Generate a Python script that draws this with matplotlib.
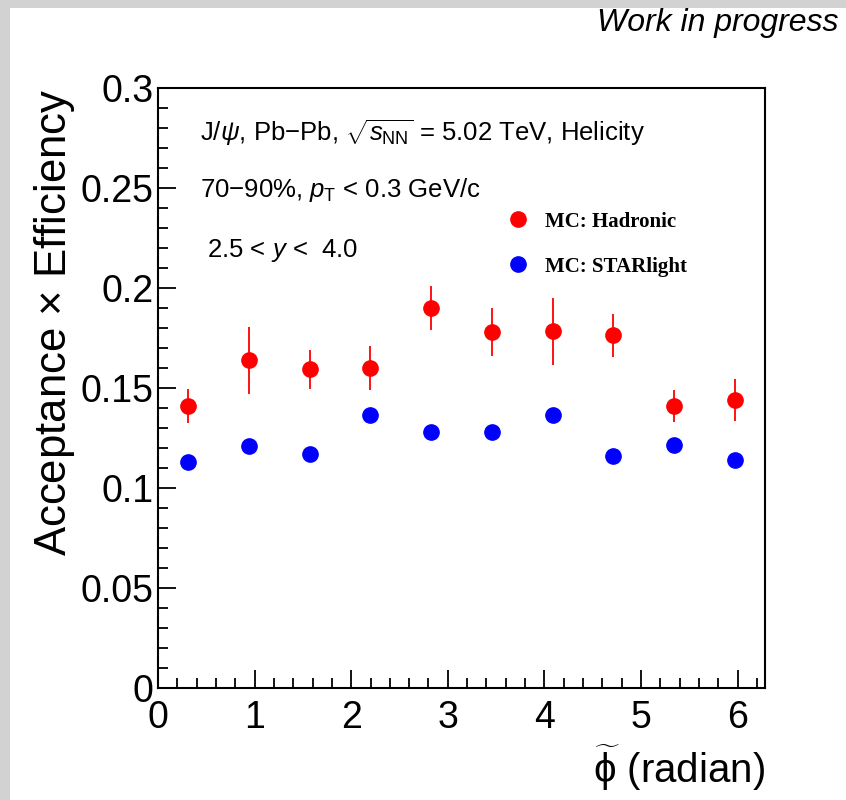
import matplotlib
matplotlib.use('Agg')
import matplotlib.pyplot as plt
from matplotlib.patches import Rectangle
from matplotlib.lines import Line2D
from matplotlib.ticker import MultipleLocator

sans = 'Liberation Sans'
plt.rcParams['font.family'] = [sans, 'DejaVu Sans']
plt.rcParams['mathtext.fontset'] = 'custom'
plt.rcParams['mathtext.rm'] = sans
plt.rcParams['mathtext.it'] = sans + ':italic'

# bin centres of phi-tilde (radian)
phi = [0.314, 0.942, 1.571, 2.199, 2.827, 3.456, 4.084, 4.712, 5.341, 5.969]

# MC: Hadronic
had = [0.1412, 0.1639, 0.1594, 0.1599, 0.1900, 0.1780, 0.1784, 0.1764, 0.1412, 0.1440]
had_err = [0.0085, 0.0167, 0.0097, 0.0111, 0.0112, 0.0120, 0.0167, 0.0107, 0.0080, 0.0104]

# MC: STARlight
star = [0.1132, 0.1210, 0.1170, 0.1363, 0.1278, 0.1280, 0.1365, 0.1162, 0.1217, 0.1142]
star_err = [0.0010, 0.0010, 0.0010, 0.0010, 0.0010, 0.0010, 0.0010, 0.0010, 0.0010, 0.0010]

fig = plt.figure(figsize=(8.46, 8.0), dpi=100, facecolor='#d2d2d2')
fig.patches.append(Rectangle((10 / 846, 0), 1, 1 - 8 / 800, transform=fig.transFigure,
                             facecolor='white', edgecolor='none', zorder=-10))

ax = fig.add_axes([158 / 846, 1 - 688 / 800, 607 / 846, 600 / 800])
ax.errorbar(phi, had, yerr=had_err, fmt='o', color='#ff0000', ecolor='#ff0000',
            markersize=11, elinewidth=1.3, capsize=0)
ax.errorbar(phi, star, yerr=star_err, fmt='o', color='#0000ff', ecolor='#0000ff',
            markersize=11, elinewidth=1.3, capsize=0)

ax.set_xlim(0, 6.2832)
ax.set_ylim(0, 0.3)
ax.xaxis.set_major_locator(MultipleLocator(1))
ax.xaxis.set_minor_locator(MultipleLocator(0.2))
ax.yaxis.set_minor_locator(MultipleLocator(0.01))
ax.set_yticks([0, 0.05, 0.1, 0.15, 0.2, 0.25, 0.3], ['0', '0.05', '0.1', '0.15', '0.2', '0.25', '0.3'])
ax.tick_params(which='both', direction='in', top=False, right=False, width=1.3)
ax.tick_params(which='major', length=13, labelsize=27)
ax.tick_params(which='minor', length=7)
ax.tick_params(axis='x', pad=9)
ax.tick_params(axis='y', pad=3)
for s in ax.spines.values():
    s.set_linewidth(1.5)

ax.text(-0.17, 1.0, r'Acceptance $\times$ Efficiency', transform=ax.transAxes,
        rotation=90, ha='center', va='top', fontsize=31.5)
ax.text(1.0, -0.133, r'$\widetilde{\mathrm{\phi}}$ (radian)', transform=ax.transAxes,
        ha='right', va='center', fontsize=29)

ax.text(0.07, 0.925, r'J/$\psi$, Pb$-$Pb, $\sqrt{s_{\rm NN}}$ = 5.02 TeV, Helicity',
        transform=ax.transAxes, fontsize=18.5, va='center')
ax.text(0.07, 0.83, r'70$-$90%, $p_{\rm T}$ < 0.3 GeV/c',
        transform=ax.transAxes, fontsize=18.5, va='center')
ax.text(0.08, 0.73, r'2.5 < $y$ <  4.0',
        transform=ax.transAxes, fontsize=18.5, va='center')

handles = [Line2D([], [], marker='o', ls='none', color='#ff0000', markersize=11),
           Line2D([], [], marker='o', ls='none', color='#0000ff', markersize=11)]
ax.legend(handles, ['MC: Hadronic', 'MC: STARlight'], loc='upper left',
          bbox_to_anchor=(0.56, 0.808), frameon=False,
          prop={'family': 'Liberation Serif', 'weight': 'bold', 'size': 15},
          handletextpad=0.75, labelspacing=1.2, handlelength=1.1, borderaxespad=0)

fig.text(838 / 846, 1 - 23 / 800, 'Work in progress', ha='right', va='center',
         fontsize=23, style='italic')

fig.savefig('out.png', dpi=100, facecolor=fig.get_facecolor())
